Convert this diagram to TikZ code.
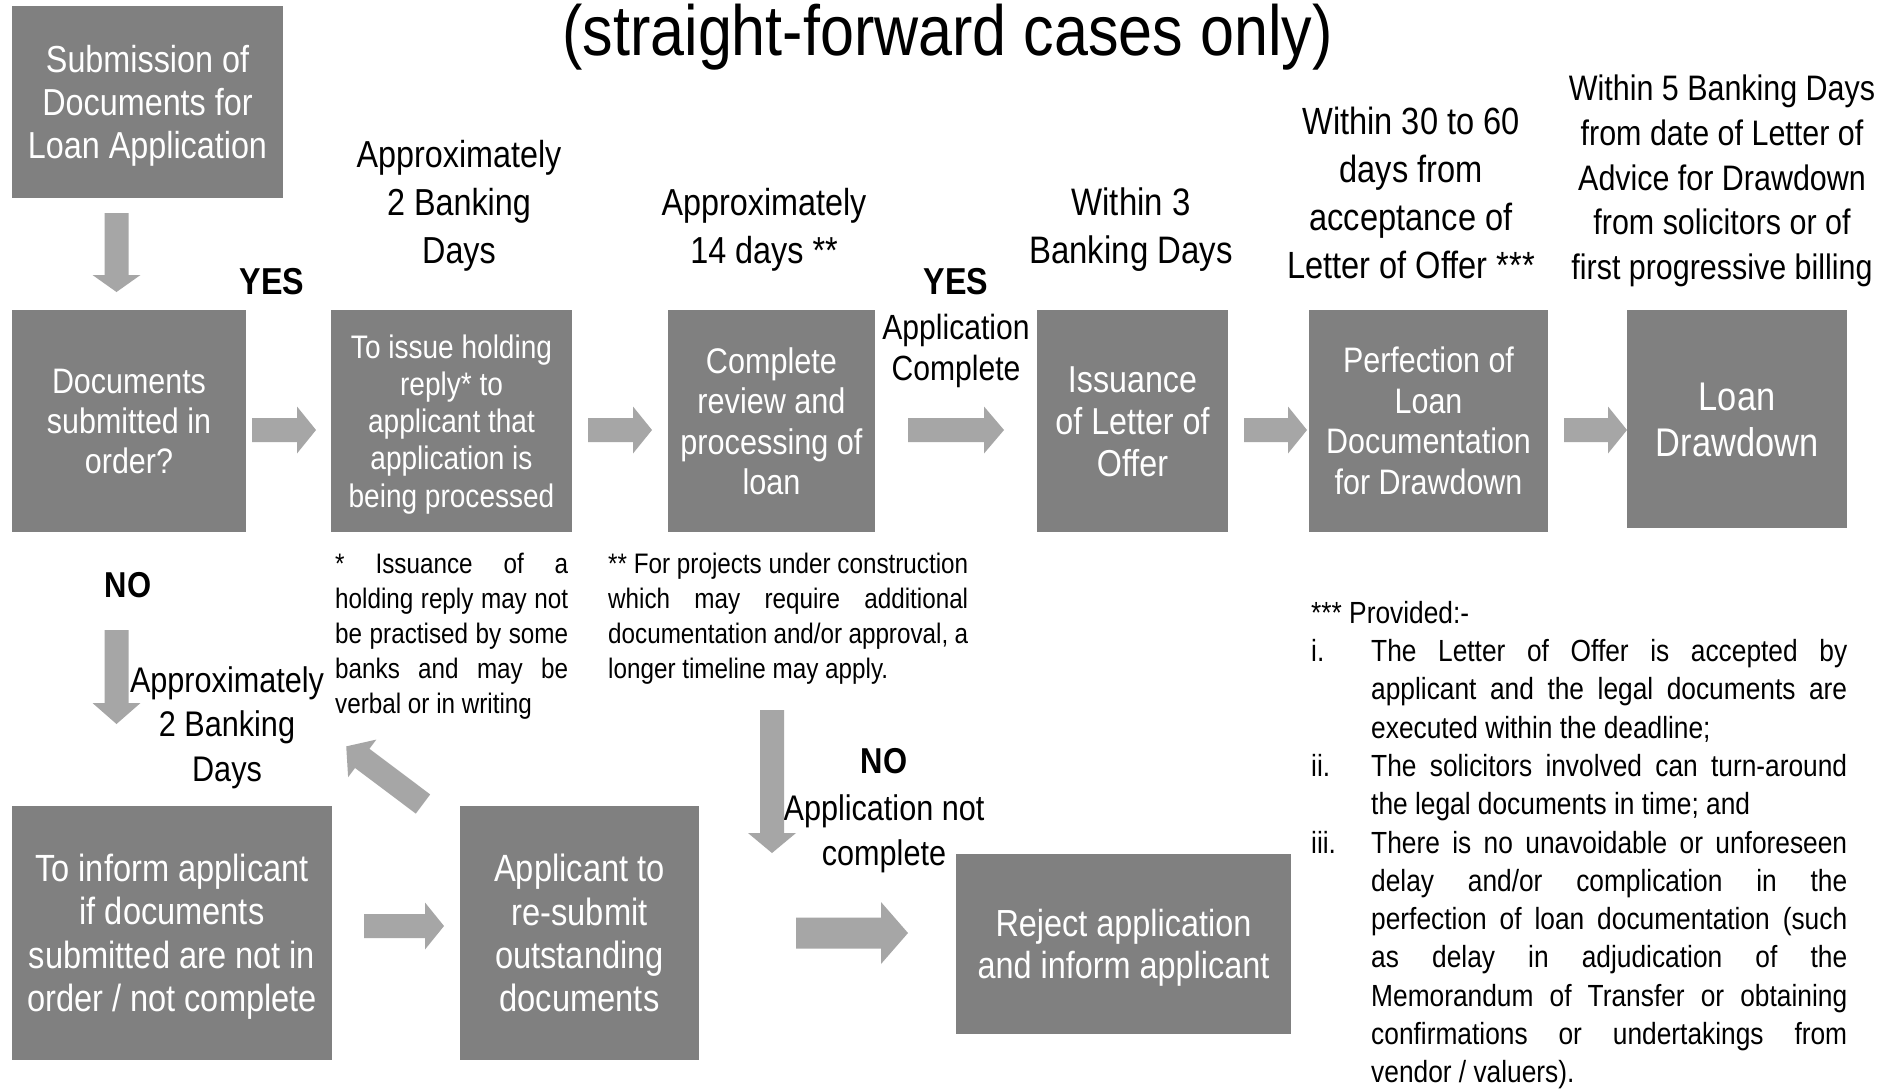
\documentclass[tikz,border=0pt]{standalone}
\usepackage{fontspec}
\setmainfont{Liberation Sans}[FakeStretch=0.86]
\definecolor{boxgray}{RGB}{128,128,128}
\definecolor{arrowgray}{RGB}{166,166,166}
\makeatletter
\newcommand{\myfs}[2]{\fontsize{#1}{#2}\selectfont}
\newcommand{\mytop}{\rule{0pt}{0.95\dimexpr\f@size pt\relax}}
\newcommand{\mybot}{\rule[-0.234\dimexpr\f@size pt\relax]{0pt}{0.234\dimexpr\f@size pt\relax}}
\makeatother
\newcommand{\blockarrow}[6]{%
  \fill[arrowgray, shift={(#1)}, rotate=#2]
    (0,-#4) -- (#3-#6,-#4) -- (#3-#6,-#5) -- (#3,0) -- (#3-#6,#5) -- (#3-#6,#4) -- (0,#4) -- cycle;}
\tikzset{
  box/.style={rectangle, fill=boxgray, draw=none, inner sep=0pt, text=white, align=center},
  lab/.style={inner sep=0pt, text=black, align=center},
  note/.style={inner sep=0pt, text=black, align=left, anchor=north west},
}
\begin{document}
\begin{tikzpicture}[x=1pt,y=1pt]
\fill[white] (0,0) rectangle (1883,-1088);
\useasboundingbox (0,0) rectangle (1883,-1088);

% title
\node[lab, anchor=base, font=\myfs{71}{80}] (title) at (947.5,-55) {(straight-forward cases only)};

% boxes
\node[box, minimum width=271pt, minimum height=192pt, font=\myfs{37.6}{43}] (b0) at (147.5,-102)
  {\mytop Submission of\\Documents for\\Loan Application\mybot};
\node[box, minimum width=234pt, minimum height=222pt, font=\myfs{35.4}{40}] (b1) at (129,-421)
  {\mytop Documents\\submitted in\\order?\mybot};
\node[box, minimum width=241pt, minimum height=222pt, font=\myfs{32.6}{37.2}] (b2) at (451.5,-421)
  {\mytop To issue holding\\reply* to\\applicant that\\application is\\being processed\mybot};
\node[box, minimum width=207pt, minimum height=222pt, font=\myfs{35.6}{40.5}] (b3) at (771.5,-421)
  {\mytop Complete\\review and\\processing of\\loan\mybot};
\node[box, minimum width=191pt, minimum height=222pt, font=\myfs{37.5}{42}] (b4) at (1132.5,-421)
  {\mytop Issuance\\of Letter of\\Offer\mybot};
\node[box, minimum width=239pt, minimum height=222pt, font=\myfs{35.4}{40.5}] (b5) at (1428.5,-421)
  {\mytop Perfection of\\Loan\\Documentation\\for Drawdown\mybot};
\node[box, minimum width=220pt, minimum height=218pt, font=\myfs{40}{45.6}] (b6) at (1737,-419)
  {\mytop Loan\\Drawdown\mybot};
\node[box, minimum width=320pt, minimum height=254pt, font=\myfs{37.9}{43.2}] (b7) at (172,-933)
  {\mytop To inform applicant\\if documents\\submitted are not in\\order / not complete\mybot};
\node[box, minimum width=239pt, minimum height=254pt, font=\myfs{38}{43.2}] (b8) at (579.5,-933)
  {\mytop Applicant to\\re-submit\\outstanding\\documents\mybot};
\node[box, minimum width=335pt, minimum height=180pt, font=\myfs{37.7}{42}] (b9) at (1123.5,-944)
  {\mytop Reject application\\and inform applicant\mybot};

% labels
\node[lab, font=\myfs{37.6}{48}] (l1) at (459,-202) {\mytop Approximately\\2 Banking\\Days\mybot};
\node[lab, font=\myfs{37.6}{48}] (l2) at (764,-226) {\mytop Approximately\\14 days **\mybot};
\node[lab, font=\myfs{38.3}{48}] (l3) at (1131,-226) {\mytop Within 3\\Banking Days\mybot};
\node[lab, font=\myfs{37.9}{48}] (l4) at (1411,-193) {\mytop Within 30 to 60\\days from\\acceptance of\\Letter of Offer ***\mybot};
\node[lab, font=\myfs{35.4}{44.7}] (l5) at (1722,-177.5) {\mytop Within 5 Banking Days\\from date of Letter of\\Advice for Drawdown\\from solicitors or of\\first progressive billing\mybot};
\node[lab, font=\bfseries\myfs{37.5}{44}] (yes1) at (272,-281) {\mytop YES\mybot};
\node[lab, font=\bfseries\myfs{37.5}{44}] (yes2) at (956,-281) {\mytop YES\mybot};
\node[lab, font=\myfs{35}{41}] (appc) at (956,-347) {\mytop Application\\Complete\mybot};
\node[lab, font=\bfseries\myfs{36}{44}] (no1) at (128,-585) {\mytop NO\mybot};
\node[lab, font=\myfs{35.6}{44.5}] (l6) at (227,-724) {\mytop Approximately\\2 Banking\\Days\mybot};
\node[lab, font=\bfseries\myfs{36}{44}] (no2) at (884,-761) {\mytop NO\mybot};
\node[lab, font=\myfs{35.6}{44.5}] (appn) at (884,-830) {\mytop Application not\\complete\mybot};

% footnotes
\node[note, font=\myfs{28.2}{35}] (f1) at (335,-543) {\rule{0pt}{30pt}\makebox[233pt][s]{* Issuance of a}\\
  \makebox[233pt][s]{holding reply may not}\\
  \makebox[233pt][s]{be practised by some}\\
  \makebox[233pt][s]{banks and may be}\\
  verbal or in writing};
\node[note, font=\myfs{28.2}{35}] (f2) at (608,-543) {\rule{0pt}{30pt}\makebox[360pt][s]{** For projects under construction}\\
  \makebox[360pt][s]{which may require additional}\\
  \makebox[360pt][s]{documentation and/or approval, a}\\
  longer timeline may apply.};
\node[note, font=\myfs{30.6}{38.3}] (f3) at (1311,-593) {\rule{0pt}{30pt}*** Provided:-\\
  \makebox[60pt][l]{i.}\makebox[476pt][s]{The Letter of Offer is accepted by}\\
  \makebox[60pt][l]{}\makebox[476pt][s]{applicant and the legal documents are}\\
  \makebox[60pt][l]{}executed within the deadline;\\
  \makebox[60pt][l]{ii.}\makebox[476pt][s]{The solicitors involved can turn-around}\\
  \makebox[60pt][l]{}the legal documents in time; and\\
  \makebox[60pt][l]{iii.}\makebox[476pt][s]{There is no unavoidable or unforeseen}\\
  \makebox[60pt][l]{}\makebox[476pt][s]{delay and/or complication in the}\\
  \makebox[60pt][l]{}\makebox[476pt][s]{perfection of loan documentation (such}\\
  \makebox[60pt][l]{}\makebox[476pt][s]{as delay in adjudication of the}\\
  \makebox[60pt][l]{}\makebox[476pt][s]{Memorandum of Transfer or obtaining}\\
  \makebox[60pt][l]{}\makebox[476pt][s]{confirmations or undertakings from}\\
  \makebox[60pt][l]{}vendor / valuers).};

% arrow tails
\coordinate (a0) at (116.5,-213);
\coordinate (a6) at (116.5,-630);
\coordinate (a1) at (252,-430);
\coordinate (a2) at (588,-430);
\coordinate (a3) at (908,-430);
\coordinate (a4) at (1244,-430);
\coordinate (a5) at (1564,-430);
\coordinate (a7) at (423,-804);
\coordinate (a8) at (364,-926);
\coordinate (a9) at (772,-710);
\coordinate (a10) at (796,-933);

\blockarrow{a0}{-90}{79}{12}{24}{17}
\blockarrow{a6}{-90}{94}{12}{24}{21}
\blockarrow{a1}{0}{64}{12}{23.5}{19}
\blockarrow{a2}{0}{64}{12}{23.5}{19}
\blockarrow{a3}{0}{96}{12}{23.5}{20}
\blockarrow{a4}{0}{63}{12}{23.5}{19}
\blockarrow{a5}{0}{63}{12}{23.5}{19}
\blockarrow{a7}{143.1}{96}{12}{23.5}{20}
\blockarrow{a8}{0}{80}{12}{23.5}{19}
\blockarrow{a9}{-90}{143}{12}{24}{20}
\blockarrow{a10}{0}{112}{15.5}{31}{27}
\end{tikzpicture}
\end{document}
